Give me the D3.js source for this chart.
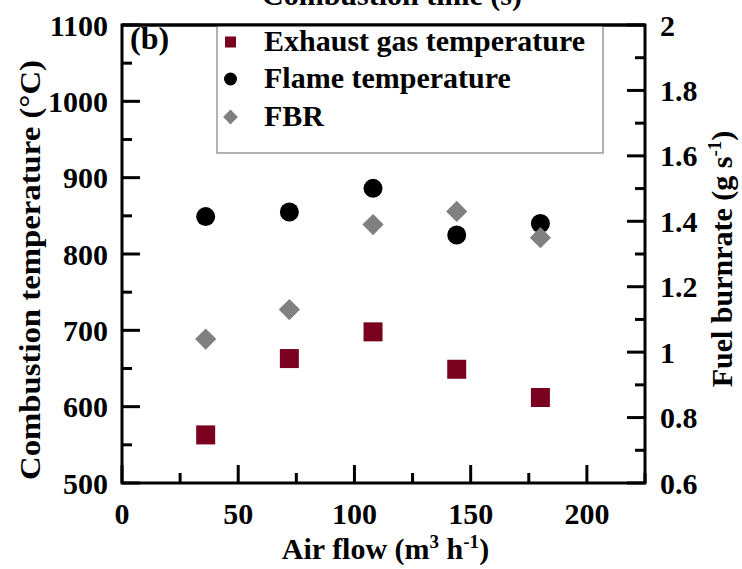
<!DOCTYPE html>
<html>
<head>
<meta charset="utf-8">
<script src="https://cdn.jsdelivr.net/npm/d3@7"></script>
<style>
  html, body { margin: 0; padding: 0; background: #fff; }
  svg { display: block; }
  text { font-family: "Liberation Serif", "Times New Roman", serif; font-weight: bold; fill: #000; }
</style>
</head>
<body>
<svg id="chart" width="742" height="569"></svg>
<script>
// ---- data ----
const airFlow = [36, 72, 108, 144, 180];
const exhaustTemp = [563, 663, 698, 649, 612];
const flameTemp = [849, 855, 886, 825, 840];
const fbr = [1.04, 1.13, 1.39, 1.43, 1.35];
const xTicks = [0, 50, 100, 150, 200];
const yLeftTicks = [500, 600, 700, 800, 900, 1000, 1100];
const yRightTicks = [0.6, 0.8, 1, 1.2, 1.4, 1.6, 1.8, 2];
const legendLabels = ["Exhaust gas temperature", "Flame temperature", "FBR"];

// ---- layout ----
const L = 122, R = 645, T = 25, B = 483;
const FS = 30;
const svg = d3.select("#chart");

const x = d3.scaleLinear().domain([0, 225]).range([L, R]);
const yL = d3.scaleLinear().domain([500, 1100]).range([B, T]);
const yR = d3.scaleLinear().domain([0.6, 2]).range([B, T]);

// cut-off top title
svg.append("text").attr("x", 392).attr("y", 5).attr("text-anchor", "middle")
  .style("font-size", FS + "px").text("Combustion time (s)");

// ticks (inward)
const MAJ = 18, MIN = 10, SW = 3;
function stepVals(step, start, end) {
  const out = [];
  for (let v = start; v <= end + 1e-9; v += step) out.push(+v.toFixed(4));
  return out;
}
const tickG = svg.append("g").attr("stroke", "#000").attr("stroke-width", SW);
stepVals(50, 500, 1100).forEach((v, i) => {
  const major = i % 2 === 0;
  tickG.append("line").attr("x1", L).attr("x2", L + (major ? MAJ : MIN))
    .attr("y1", yL(v)).attr("y2", yL(v));
});
stepVals(0.1, 0.6, 2.0).forEach((v, i) => {
  const major = i % 2 === 0;
  tickG.append("line").attr("x1", R).attr("x2", R - (major ? MAJ : MIN))
    .attr("y1", yR(v)).attr("y2", yR(v));
});
stepVals(25, 0, 225).forEach((v, i) => {
  const major = i % 2 === 0;
  tickG.append("line").attr("x1", x(v)).attr("x2", x(v))
    .attr("y1", B).attr("y2", B - (major ? MAJ : MIN));
});

// frame
svg.append("rect").attr("x", L).attr("y", T).attr("width", R - L).attr("height", B - T)
  .attr("fill", "none").attr("stroke", "#000").attr("stroke-width", SW);

// tick labels
svg.append("g").selectAll("text").data(yLeftTicks).join("text")
  .attr("x", 108).attr("y", d => yL(d)).attr("dy", "0.35em").attr("text-anchor", "end")
  .style("font-size", FS + "px").text(d => d);
svg.append("g").selectAll("text").data(yRightTicks).join("text")
  .attr("x", 660).attr("y", d => yR(d)).attr("dy", "0.35em").attr("text-anchor", "start")
  .style("font-size", FS + "px").text(d => d3.format("~g")(d));
svg.append("g").selectAll("text").data(xTicks).join("text")
  .attr("x", d => x(d)).attr("y", 524).attr("text-anchor", "middle")
  .style("font-size", FS + "px").text(d => d);

// axis titles
const xt = svg.append("text").attr("x", (L + R) / 2 + 2).attr("y", 559).attr("text-anchor", "middle")
  .style("font-size", FS + "px");
xt.append("tspan").text("Air flow (m");
xt.append("tspan").attr("dy", -11).style("font-size", "19px").text("3");
xt.append("tspan").attr("dy", 11).text(" h");
xt.append("tspan").attr("dy", -11).style("font-size", "19px").text("-1");
xt.append("tspan").attr("dy", 11).text(")");

svg.append("text").attr("transform", `translate(40,270) rotate(-90)`)
  .attr("text-anchor", "middle").style("font-size", FS + "px")
  .attr("textLength", 420).attr("lengthAdjust", "spacingAndGlyphs")
  .text("Combustion temperature (°C)");

const rt = svg.append("text").attr("transform", `translate(732,259) rotate(-90)`)
  .attr("text-anchor", "middle").style("font-size", FS + "px");
rt.append("tspan").text("Fuel burnrate (g s");
rt.append("tspan").attr("dy", -11).style("font-size", "19px").text("-1");
rt.append("tspan").attr("dy", 11).text(")");

// panel label
svg.append("text").attr("x", 130).attr("y", 49).style("font-size", "32px").text("(b)");

// data markers
const sq = 19, cr = 9.5, dm = 15;
const dmSym = d3.symbol().type(d3.symbolSquare).size(dm * dm);
svg.append("g").selectAll("rect").data(airFlow).join("rect")
  .attr("x", d => x(d) - sq / 2).attr("y", (d, i) => yL(exhaustTemp[i]) - sq / 2)
  .attr("width", sq).attr("height", sq).attr("fill", "#7a0020");
svg.append("g").selectAll("circle").data(airFlow).join("circle")
  .attr("cx", d => x(d)).attr("cy", (d, i) => yL(flameTemp[i])).attr("r", cr).attr("fill", "#000");
svg.append("g").selectAll("path").data(airFlow).join("path")
  .attr("d", dmSym)
  .attr("transform", (d, i) => `translate(${x(d)},${yR(fbr[i])}) rotate(45)`)
  .attr("fill", "#808080");

// legend
const lg = svg.append("g");
lg.append("rect").attr("x", 217).attr("y", T).attr("width", 603 - 217).attr("height", 153 - T)
  .attr("fill", "#fff").attr("stroke", "#808080").attr("stroke-width", 1.2);
const rowsY = [42, 79, 117];
lg.append("rect").attr("x", 225).attr("y", rowsY[0] - 5.5).attr("width", 11).attr("height", 11).attr("fill", "#7a0020");
lg.append("circle").attr("cx", 230.5).attr("cy", rowsY[1]).attr("r", 6.5).attr("fill", "#000");
lg.append("path").attr("d", d3.symbol().type(d3.symbolSquare).size(110))
  .attr("transform", `translate(230.5,${rowsY[2]}) rotate(45)`).attr("fill", "#808080");
lg.selectAll("text.lab").data(legendLabels).join("text").attr("class", "lab")
  .attr("x", 264).attr("y", (d, i) => rowsY[i] + 9).style("font-size", FS + "px").text(d => d);
svg.append("line").attr("x1", L).attr("x2", R).attr("y1", T).attr("y2", T)
  .attr("stroke", "#000").attr("stroke-width", SW);
</script>
</body>
</html>
